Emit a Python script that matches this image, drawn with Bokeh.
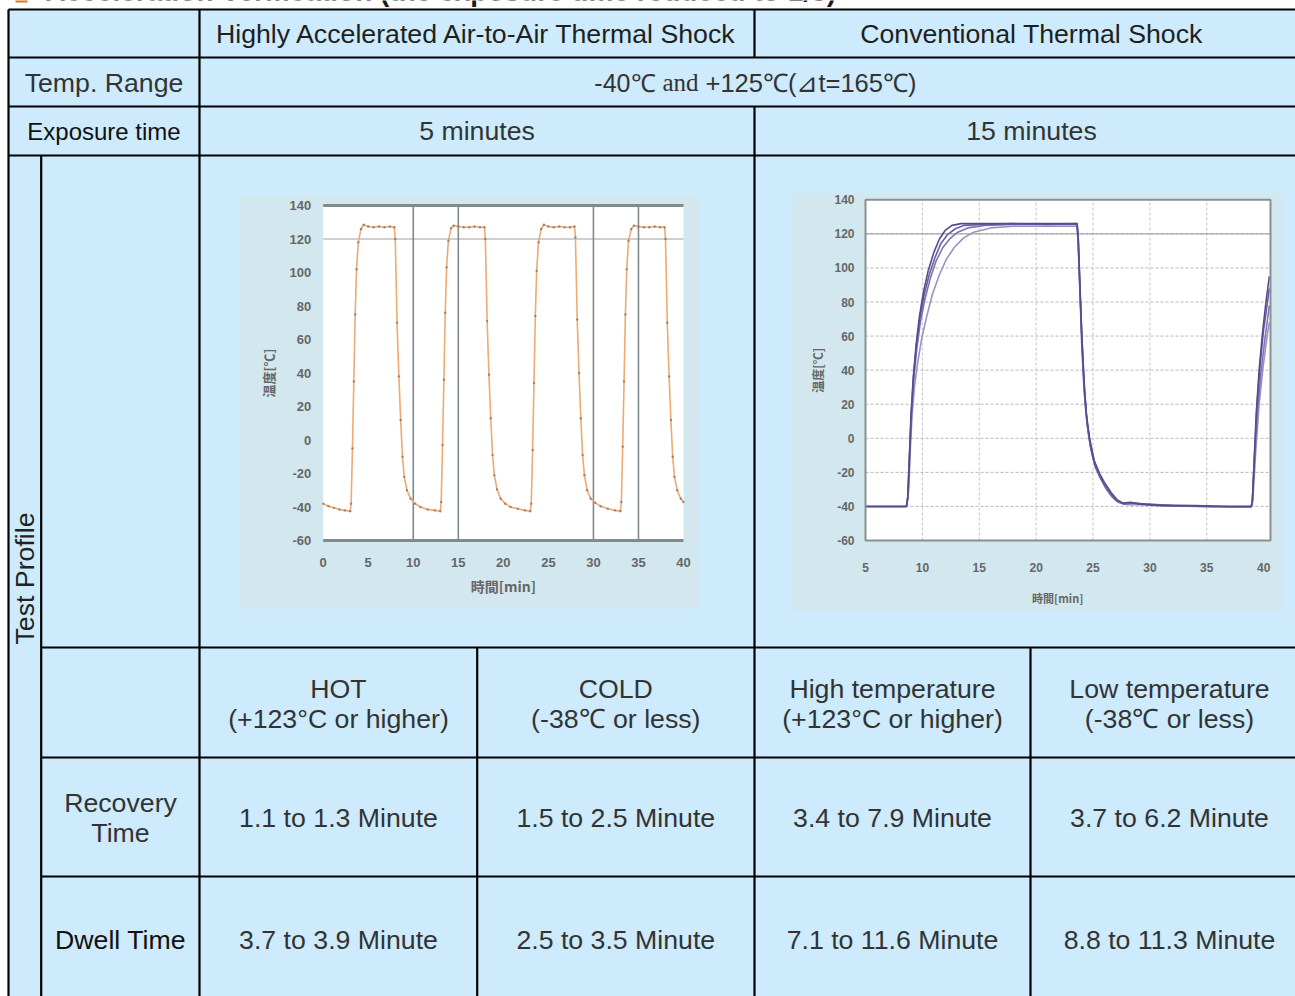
import math
from bokeh.plotting import figure
from bokeh.models import Range1d
from bokeh.core.properties import value
from bokeh.embed import file_html
from bokeh.resources import INLINE

# ---------------- table texts ----------------
title_text = "Acceleration Verification (the exposure time reduced to 1/3)"
method_names = ["Highly Accelerated Air-to-Air Thermal Shock", "Conventional Thermal Shock"]
temp_range_parts = ["-40\u2103", "and", "+125\u2103(\u22bft=165\u2103)"]
row_temp = "Temp. Range"
row_exposure = "Exposure time"
row_profile = "Test Profile"
row_recovery = ["Recovery", "Time"]
row_dwell = "Dwell Time"
exposure_times = ["5 minutes", "15 minutes"]
phase_names = ["HOT", "COLD", "High temperature", "Low temperature"]
phase_limits = ["(+123\u00b0C or higher)", "(-38\u2103 or less)", "(+123\u00b0C or higher)", "(-38\u2103 or less)"]
recovery_times = ["1.1 to 1.3 Minute", "1.5 to 2.5 Minute", "3.4 to 7.9 Minute", "3.7 to 6.2 Minute"]
dwell_times = ["3.7 to 3.9 Minute", "2.5 to 3.5 Minute", "7.1 to 11.6 Minute", "8.8 to 11.3 Minute"]

# ---------------- chart 1: highly accelerated (time [min], temp [C]) ----------------
ha_time = [0.0, 0.6, 1.2, 1.8, 2.4, 3.0, 3.1, 3.25, 3.4, 3.55, 3.7, 3.9, 4.2, 4.5, 5.0, 5.6, 6.2, 6.8, 7.4, 7.9,
           8.0, 8.2, 8.4, 8.6, 8.8, 9.0, 9.3, 9.7, 10.2, 10.8, 11.6, 12.4, 13.0,
           13.1, 13.25, 13.4, 13.55, 13.7, 13.9, 14.2, 14.5, 15.0, 15.6, 16.2, 16.8, 17.4, 17.9,
           18.0, 18.2, 18.4, 18.6, 18.8, 19.0, 19.3, 19.7, 20.2, 20.8, 21.6, 22.4, 23.0,
           23.1, 23.25, 23.4, 23.55, 23.7, 23.9, 24.2, 24.5, 25.0, 25.6, 26.2, 26.8, 27.4, 27.9,
           28.0, 28.2, 28.4, 28.6, 28.8, 29.0, 29.3, 29.7, 30.2, 30.8, 31.6, 32.4, 33.0,
           33.1, 33.25, 33.4, 33.55, 33.7, 33.9, 34.2, 34.5, 35.0, 35.6, 36.2, 36.8, 37.4, 37.9,
           38.0, 38.2, 38.4, 38.6, 38.8, 39.0, 39.3, 39.7, 40.0]
ha_temp = [-38, -39.5, -40.5, -41.5, -42, -42.5, -38, -5, 35, 75, 102, 118, 126, 128.5, 127.5, 127, 127.5, 127, 127.5, 127,
           120, 70, 38, 12, -10, -22, -30, -35, -38, -40, -41.5, -42, -42.5,
           -37, -3, 36, 76, 103, 119, 126.5, 128, 127.5, 127, 127, 127.5, 127, 127,
           120, 71, 39, 13, -9, -21, -29.5, -35, -38, -40, -41, -42, -42.5,
           -38, -6, 34, 74, 101, 118, 126, 128.5, 127.5, 127, 127.5, 127, 127, 127.5,
           121, 72, 40, 13, -9, -21, -30, -35, -37.5, -39.5, -41, -42, -42.5,
           -37, -4, 35, 75, 102, 119, 126, 128, 127.5, 127, 127, 127.5, 127, 127,
           120, 70, 38, 12, -10, -22, -30, -35, -37]
ha_xticks = [0, 5, 10, 15, 20, 25, 30, 35, 40]
ha_yticks = [-60, -40, -20, 0, 20, 40, 60, 80, 100, 120, 140]
ha_marks = [10, 15, 30, 35]
ha_ref_temp = 120

# ---------------- chart 2: conventional (time [min], temp [C]) ----------------
ct_time_a = [5.0, 8.6, 8.7, 8.85, 9.0, 9.2, 9.45, 9.75, 10.1, 10.5, 11.0, 11.5, 12.0, 12.6, 13.4, 15.0, 18.0, 21.0, 23.6,
             23.7, 23.85, 24.0, 24.2, 24.4, 24.7, 25.1, 25.6, 26.1, 26.6, 27.1, 27.6, 28.3, 29.0, 31.0, 34.0, 37.0, 38.9,
             39.0, 39.15, 39.35, 39.6, 39.9, 40.2, 40.5]
ct_temp_a = [-40, -40, -36, -12, 14, 36, 55, 72, 86, 98, 109, 117, 122, 125, 126, 126, 126, 126, 126,
             118, 90, 62, 35, 15, 0, -13, -21, -27, -32, -36, -38, -37.5, -38.5, -39.5, -39.5, -40, -40,
             -38, -15, 15, 40, 62, 80, 95]
ct_time_b = [5.0, 8.6, 8.75, 8.9, 9.05, 9.25, 9.5, 9.8, 10.2, 10.7, 11.2, 11.8, 12.4, 13.1, 14.0, 15.5, 18.0, 21.0, 23.6,
             23.7, 23.85, 24.0, 24.2, 24.45, 24.75, 25.2, 25.7, 26.2, 26.7, 27.2, 27.8, 28.5, 30.0, 33.0, 36.0, 38.9,
             39.0, 39.2, 39.45, 39.75, 40.1, 40.5]
ct_temp_b = [-40, -40, -33, -8, 15, 35, 52, 67, 81, 94, 104, 112, 117, 121, 123.5, 125, 125.5, 125.5, 125.5,
             116, 86, 56, 30, 10, -4, -16, -24, -30, -34.5, -37.5, -38.5, -38, -39, -39.5, -40, -40,
             -38, -12, 15, 38, 58, 78]
ct_time_c = [5.0, 8.6, 8.8, 8.95, 9.1, 9.3, 9.6, 9.95, 10.4, 10.9, 11.5, 12.1, 12.8, 13.6, 14.5, 16.0, 18.0, 21.0, 23.6,
             23.7, 23.9, 24.1, 24.3, 24.6, 25.0, 25.5, 26.0, 26.5, 27.0, 27.6, 28.2, 29.0, 31.0, 34.0, 37.0, 38.9,
             39.05, 39.3, 39.6, 39.95, 40.3, 40.5]
ct_temp_c = [-40, -40, -30, -5, 14, 30, 45, 59, 72, 85, 96, 105, 112, 117.5, 121, 123.5, 124.5, 124.5, 124.5,
             112, 78, 45, 20, 2, -12, -21, -28, -33, -36.5, -38.5, -39, -39, -39.5, -40, -40.5, -40.5,
             -36, -8, 20, 42, 60, 68]
ct_time_d = [5.0, 8.6, 8.72, 8.87, 9.02, 9.22, 9.47, 9.77, 10.15, 10.6, 11.1, 11.6, 12.2, 12.9, 13.7, 15.2, 18.0, 21.0, 23.6,
             23.7, 23.85, 24.05, 24.25, 24.5, 24.8, 25.2, 25.7, 26.2, 26.7, 27.2, 27.7, 28.4, 29.5, 32.0, 35.0, 38.9,
             39.0, 39.2, 39.4, 39.7, 40.0, 40.5]
ct_temp_d = [-40, -40, -35, -10, 14, 36, 54, 70, 84, 96, 106, 114, 119.5, 123, 125, 125.5, 126, 125.5, 126,
             117, 88, 55, 28, 8, -6, -17, -24, -29.5, -34, -37, -38.5, -38, -38.5, -39.5, -40, -40,
             -37, -10, 18, 44, 64, 88]
ct_xticks = [5, 10, 15, 20, 25, 30, 35, 40]
ct_yticks = [-60, -40, -20, 0, 20, 40, 60, 80, 100, 120, 140]
ct_xmax = 40.6

axis_time = "\u6642\u9593[min]"
axis_temp = "\u6e29\u5ea6[\u2103]"

# ---------------- layout (page pixels) ----------------
W, H = 1295, 996
XL, XP, X1, XM1, X2, XM2, XR = 8, 40.7, 199, 476.7, 754, 1030, 1308
YT, YR1, YR2, YR3, YR4, YR5, YR6, YB = 9, 57, 106, 155, 647, 757, 876, 1001
CELL = "#cdebfc"
IMG = "#d2e8ee"
SANS = value("Liberation Sans")
CJK = value("Noto Sans CJK JP")
TICK = "#666666"

p = figure(width=W, height=H, x_range=Range1d(0, W), y_range=Range1d(H, 0),
           toolbar_location=None, output_backend="svg", min_border=0,
           x_axis_location=None, y_axis_location=None)
p.grid.visible = False
p.outline_line_color = None
p.background_fill_color = "white"
p.border_fill_color = "white"

# title (cut at top edge)
p.quad(left=[15], right=[27], top=[-8], bottom=[2], fill_color="#e8741e", line_color=None)
p.text(x=[45], y=[-9], text=[title_text], text_font=SANS, text_font_size="28px",
       text_font_style="bold", text_color="#1a1a1a", text_baseline="alphabetic", text_align="left")

# table background
p.quad(left=[XL], right=[XR], top=[YT], bottom=[YB], fill_color=CELL, line_color=None)

# chart image backgrounds
p.quad(left=[240, 792], right=[698, 1282], top=[195, 193], bottom=[608, 610], fill_color=IMG, line_color=None)

# borders
hx0 = [XL, XL, XL, XL, XP, XP, XP, XL]
hx1 = [XR] * 8
hy = [YT, YR1, YR2, YR3, YR4, YR5, YR6, YB]
p.segment(x0=hx0, x1=hx1, y0=hy, y1=hy, line_color="black", line_width=2.2)
vx = [XL, XP, X1, X2, X2, XM1, XM2, XR]
vy0 = [YT, YR3, YT, YT, YR2, YR4, YR4, YT]
vy1 = [YB, YB, YB, YR1, YB, YB, YB, YB]
p.segment(x0=vx, x1=vx, y0=vy0, y1=vy1, line_color="black", line_width=2.2)

def put(xs, ys, texts, size="26.7px", color="#333333", **kw):
    p.text(x=xs, y=ys, text=texts, text_font=SANS, text_font_size=size, text_color=color,
           text_align="center", text_baseline="middle", **kw)

put([476.5, 1031], [33, 33], method_names, color="#1f1f1f")
put([103.5], [82], [row_temp])
put([103.5], [130.5], [row_exposure], size="24px", color="#111111")
put([476.5, 1031], [130.5, 130.5], exposure_times)
p.text(x=[655], y=[82], text=[temp_range_parts[0]], text_font=SANS, text_font_size="25px",
       text_color="#333333", text_align="right", text_baseline="middle")
p.text(x=[680], y=[82], text=[temp_range_parts[1]], text_font=value("Liberation Serif"), text_font_size="25px",
       text_color="#333333", text_align="center", text_baseline="middle")
p.text(x=[705], y=[82], text=[temp_range_parts[2]], text_font=SANS, text_font_size="25.5px",
       text_color="#333333", text_align="left", text_baseline="middle")
put([24], [578], [row_profile], angle=math.pi / 2, color="#222222")
cx = [338, 615.3, 892, 1169]
put(cx, [688] * 4, phase_names)
put(cx, [718] * 4, phase_limits)
put([120, 120], [802, 832], row_recovery)
put(cx, [817] * 4, recovery_times)
put([120], [939], [row_dwell], color="#111111")
put(cx, [939] * 4, dwell_times)

# ---------------- chart 1 ----------------
s1 = p.subplot(x_source=Range1d(ha_xticks[0], ha_xticks[-1]), y_source=Range1d(ha_yticks[0], ha_yticks[-1]),
               x_target=Range1d(322.7, 683), y_target=Range1d(540, 205))
s1.quad(left=[ha_xticks[0]], right=[ha_xticks[-1]], bottom=[ha_yticks[0]], top=[ha_yticks[-1]],
        fill_color="white", line_color=None)
s1.segment(x0=[ha_xticks[0]], x1=[ha_xticks[-1]], y0=[ha_ref_temp], y1=[ha_ref_temp], line_color="#a0a0a0", line_width=1)
s1.segment(x0=ha_marks, x1=ha_marks, y0=[ha_yticks[0]] * 4, y1=[ha_yticks[-1]] * 4, line_color="#7f8a8e", line_width=1.6)
s1.segment(x0=[ha_xticks[0]] * 2, x1=[ha_xticks[-1]] * 2, y0=[ha_yticks[0], ha_yticks[-1]],
           y1=[ha_yticks[0], ha_yticks[-1]], line_color="#7f8a8e", line_width=3)
s1.line(ha_time, ha_temp, line_color="#eeaa72", line_width=1.6)
s1.scatter(ha_time, ha_temp, size=2.4, fill_color="#7a6a66", line_color=None, alpha=0.7)
s1.text(x=[ha_xticks[0]] * len(ha_yticks), y=ha_yticks, text=[str(v) for v in ha_yticks], x_offset=-12,
        text_font=SANS, text_font_size="13px", text_font_style="bold", text_color=TICK,
        text_align="right", text_baseline="middle")
s1.text(x=ha_xticks, y=[ha_yticks[0]] * len(ha_xticks), text=[str(v) for v in ha_xticks], y_offset=22,
        text_font=SANS, text_font_size="13px", text_font_style="bold", text_color=TICK,
        text_align="center", text_baseline="middle")
s1.text(x=[20], y=[ha_yticks[0]], text=[axis_time], y_offset=45, text_font=CJK, text_font_size="14px",
        text_font_style="bold", text_color=TICK, text_align="center", text_baseline="middle")
s1.text(x=[ha_xticks[0]], y=[40], text=[axis_temp], x_offset=-55, angle=math.pi / 2, text_font=CJK,
        text_font_size="13px", text_font_style="bold", text_color=TICK, text_align="center",
        text_baseline="middle")

# ---------------- chart 2 ----------------
s2 = p.subplot(x_source=Range1d(ct_xticks[0], ct_xmax), y_source=Range1d(ct_yticks[0], ct_yticks[-1]),
               x_target=Range1d(865, 1270), y_target=Range1d(540, 199.3))
s2.quad(left=[ct_xticks[0]], right=[ct_xmax], bottom=[ct_yticks[0]], top=[ct_yticks[-1]],
        fill_color="white", line_color=None)
inner_x = ct_xticks[1:-1]
s2.segment(x0=inner_x, x1=inner_x, y0=[ct_yticks[0]] * len(inner_x), y1=[ct_yticks[-1]] * len(inner_x),
           line_color="#c4c4c4", line_width=1, line_dash="3 2")
inner_y = ct_yticks[1:-1]
s2.segment(x0=[ct_xticks[0]] * len(inner_y), x1=[ct_xmax] * len(inner_y), y0=inner_y, y1=inner_y,
           line_color="#b8b8b8", line_width=1, line_dash="3 2")
s2.segment(x0=[ct_xticks[0]], x1=[ct_xmax], y0=[120], y1=[120], line_color="#9a9a9a", line_width=1)
for tt, vv, col in [(ct_time_c, ct_temp_c, "#9a92c6"), (ct_time_b, ct_temp_b, "#7f74b3"),
                    (ct_time_d, ct_temp_d, "#6a5fa3"), (ct_time_a, ct_temp_a, "#564b8c")]:
    s2.line(tt, vv, line_color=col, line_width=1.6)
s2.quad(left=[ct_xticks[0]], right=[ct_xmax], bottom=[ct_yticks[0]], top=[ct_yticks[-1]],
        fill_color=None, line_color="#8a8f92", line_width=2)
s2.text(x=[ct_xticks[0]] * len(ct_yticks), y=ct_yticks, text=[str(v) for v in ct_yticks], x_offset=-11,
        text_font=SANS, text_font_size="12px", text_font_style="bold", text_color=TICK,
        text_align="right", text_baseline="middle")
s2.text(x=ct_xticks, y=[ct_yticks[0]] * len(ct_xticks), text=[str(v) for v in ct_xticks], y_offset=27,
        text_font=SANS, text_font_size="12px", text_font_style="bold", text_color=TICK,
        text_align="center", text_baseline="middle")
s2.text(x=[21.9], y=[ct_yticks[0]], text=[axis_time], y_offset=57, text_font=CJK, text_font_size="11px",
        text_font_style="bold", text_color=TICK, text_align="center", text_baseline="middle")
s2.text(x=[ct_xticks[0]], y=[40], text=[axis_temp], x_offset=-48, angle=math.pi / 2, text_font=CJK,
        text_font_size="12px", text_font_style="bold", text_color=TICK, text_align="center",
        text_baseline="middle")

open("out.html", "w").write(file_html(p, INLINE))
